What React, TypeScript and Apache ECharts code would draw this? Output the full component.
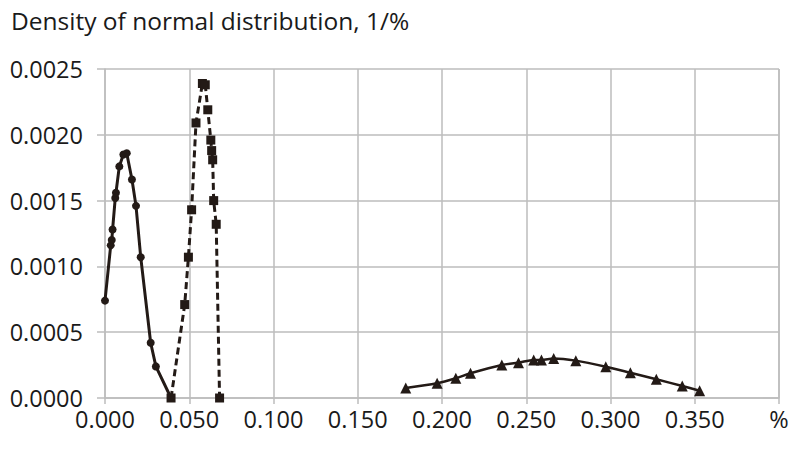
import React, { useEffect, useRef } from "react";
import * as echarts from "echarts";

const xTicks = [0, 0.05, 0.1, 0.15, 0.2, 0.25, 0.3, 0.35, 0.4];
const yTicks = [0, 0.0005, 0.001, 0.0015, 0.002, 0.0025];

const series1X = [0.0, 0.0034, 0.004, 0.0045, 0.0061, 0.0065, 0.0085, 0.0109, 0.0129, 0.016, 0.0184, 0.0212, 0.0271, 0.0302, 0.0392];
const series1Y = [0.00074, 0.00116, 0.0012, 0.00128, 0.00152, 0.00156, 0.00176, 0.00185, 0.00186, 0.00166, 0.00146, 0.00107, 0.00042, 0.00024, 0.0];

const series2X = [0.0392, 0.0473, 0.0495, 0.0514, 0.054, 0.0578, 0.0595, 0.061, 0.0628, 0.0633, 0.0639, 0.0645, 0.066, 0.068];
const series2Y = [0.0, 0.00071, 0.00107, 0.00143, 0.00209, 0.00239, 0.00238, 0.00219, 0.00196, 0.00188, 0.00181, 0.0015, 0.00132, 0.0];

const series3X = [0.1785, 0.1971, 0.2082, 0.2169, 0.2355, 0.2454, 0.2544, 0.259, 0.2663, 0.2794, 0.2972, 0.3118, 0.3272, 0.3426, 0.3529];
const series3Y = [0.000076, 0.000112, 0.00015, 0.000188, 0.000251, 0.000268, 0.000289, 0.000289, 0.000301, 0.000284, 0.000238, 0.000192, 0.000142, 0.000091, 0.000055];

const zip = (xs: number[], ys: number[]) => xs.map((x, i) => [x, ys[i]]);

const INK = "#231a16";
const GRID = "#bcbcbc";
const FONT = "Open Sans";

export default function App() {
  const ref = useRef<HTMLDivElement>(null);
  useEffect(() => {
    if (!ref.current) return;
    const chart = echarts.init(ref.current, undefined, { renderer: "svg" });
    chart.setOption({
      animation: false,
      backgroundColor: "#ffffff",
      title: {
        text: "Density of normal distribution, 1/%",
        left: 6,
        top: 3,
        textStyle: { fontFamily: FONT, fontSize: 24.5, fontWeight: "normal", color: "#1a1a1a" },
      },
      grid: { left: 105, right: 14, top: 69, bottom: 52, containLabel: false },
      xAxis: {
        type: "value",
        min: xTicks[0],
        max: xTicks[xTicks.length - 1],
        interval: 0.05,
        axisLine: { show: true, lineStyle: { color: GRID, width: 1.5 } },
        axisTick: { show: true, length: 6, lineStyle: { color: GRID, width: 1.5 } },
        splitLine: { show: true, lineStyle: { color: GRID, width: 1.5 } },
        axisLabel: {
          margin: 9,
          fontFamily: FONT,
          fontSize: 23.5,
          color: "#1a1a1a",
          formatter: (v: number) => (Math.abs(v - 0.4) < 1e-9 ? "%" : v.toFixed(3)),
        },
      },
      yAxis: {
        type: "value",
        min: yTicks[0],
        max: yTicks[yTicks.length - 1],
        interval: 0.0005,
        axisLine: { show: true, lineStyle: { color: GRID, width: 1.5 } },
        axisTick: { show: true, length: 8, lineStyle: { color: GRID, width: 1.5 } },
        splitLine: { show: true, lineStyle: { color: GRID, width: 1.5 } },
        axisLabel: {
          margin: 22,
          fontFamily: FONT,
          fontSize: 23.5,
          color: "#1a1a1a",
          formatter: (v: number) => v.toFixed(4),
        },
      },
      graphic: [
        {
          type: "line",
          shape: { x1: 779, y1: 69, x2: 779, y2: 398 },
          style: { stroke: GRID, lineWidth: 1.5 },
          z: 0,
        },
      ],
      series: [
        {
          type: "line",
          data: zip(series1X, series1Y),
          symbol: "circle",
          symbolSize: 8,
          lineStyle: { color: INK, width: 3, type: "solid" },
          itemStyle: { color: INK },
        },
        {
          type: "line",
          data: zip(series2X, series2Y),
          symbol: "rect",
          symbolSize: 9,
          lineStyle: { color: INK, width: 3, type: [7, 4] },
          itemStyle: { color: INK },
        },
        {
          type: "line",
          data: zip(series3X, series3Y),
          symbol: "triangle",
          symbolSize: 11,
          smooth: 0.3,
          lineStyle: { color: INK, width: 2.5, type: "solid" },
          itemStyle: { color: INK },
        },
      ],
    });
    return () => chart.dispose();
  }, []);
  return <div ref={ref} style={{ width: 793, height: 450, position: "absolute", left: 0, top: 0 }} />;
}
